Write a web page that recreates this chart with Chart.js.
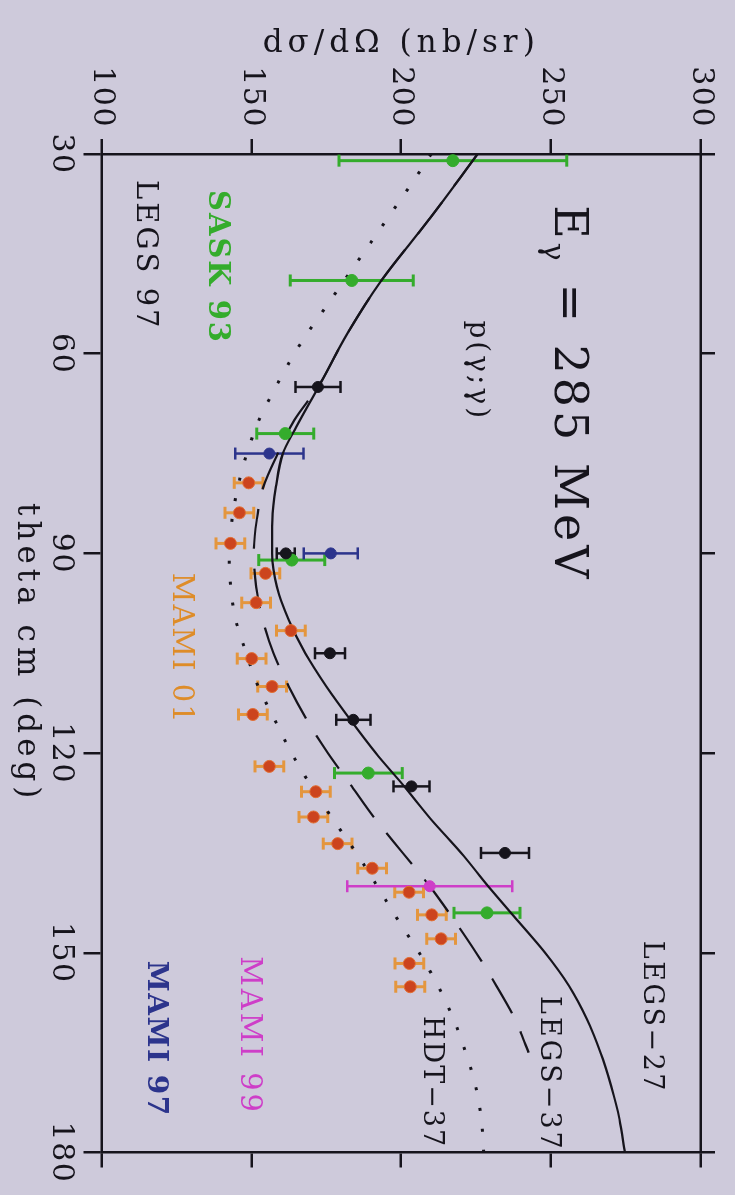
<!DOCTYPE html>
<html>
<head>
<meta charset="utf-8">
<script src="https://cdn.jsdelivr.net/npm/chart.js@4/dist/chart.umd.min.js"></script>
<style>
  html, body { margin: 0; padding: 0; width: 735px; height: 1195px; overflow: hidden; background: #cecadb; }
  /* the figure is printed sideways: draw it flat, then turn it a quarter clockwise */
  #wrap { position: absolute; left: 0; top: 0; width: 1195px; height: 735px;
          transform-origin: 0 0; transform: translate(735px, 0) rotate(90deg); }
</style>
</head>
<body>
<div id="wrap"><canvas id="c" width="1195" height="735"></canvas></div>
<script>
// theta cm (deg), d sigma / d Omega (nb/sr), error (nb/sr)
const legs97Theta = [65, 90, 105, 115, 125, 135];
const legs97Value = [172.2, 161.5, 176.2, 184, 203.4, 234.6];
const legs97Err   = [7.5, 3, 5, 5.7, 6, 8];

const sask93Theta = [31, 49, 72, 91, 123, 144];
const sask93Value = [217.2, 183.5, 161.3, 163.5, 189, 228.6];
const sask93Err   = [38, 20.5, 9.5, 11, 11.3, 11];

const mami97Theta = [75, 90];
const mami97Value = [156, 176.5];
const mami97Err   = [11.4, 9];

const mami99Theta = [140];
const mami99Value = [209.5];
const mami99Err   = [27.5];

const mami01Theta = [79.4, 83.9, 88.5, 93, 97.4, 101.6, 105.8, 110, 114.2, 122, 125.8, 129.6, 133.6, 137.3, 140.9, 144.3, 147.9, 151.6, 155.1];
const mami01Value = [149.1, 146, 143, 154.7, 151.6, 163.2, 150.1, 156.9, 150.5, 156, 171.5, 170.7, 178.8, 190.3, 202.6, 210.2, 213.3, 202.7, 203];
const mami01Err   = [4.8, 4.8, 4.8, 4.8, 4.8, 4.8, 4.8, 4.8, 4.8, 4.8, 4.8, 4.8, 4.8, 4.8, 4.8, 4.8, 4.8, 4.8, 4.8];

// model curves
const legs27Theta = [30, 40, 49, 57, 65, 71, 75, 80, 85, 90, 95, 100, 105, 110, 115, 120, 125, 130, 135, 140, 145, 150, 155, 160, 165, 170, 175, 180];
const legs27Value = [225.5, 209, 193.4, 182, 172.4, 165, 160.5, 158.2, 157, 156.9, 158.5, 162.5, 168, 175, 183, 191.5, 201, 210, 220, 229, 238.5, 248, 256, 262, 266.5, 270, 272.8, 274.6];

const legs37Theta = [30, 40, 49, 57, 65, 70, 75, 80, 85, 90, 95, 100, 105, 110, 115, 120, 125, 130, 135, 140, 145, 150, 155, 160, 165];
const legs37Value = [225.5, 209, 193.4, 182, 172.2, 164.3, 158.8, 154, 151.8, 150.8, 151.6, 153.8, 157.4, 162.5, 168.5, 175.5, 183.5, 191.5, 200.5, 209.5, 217.5, 225, 231.8, 238, 242.5];

const hdt37Theta = [30, 33, 41, 51, 59, 67, 70, 75, 80, 85, 90, 95, 100, 105, 110, 115, 120, 125, 130, 135, 140, 145, 150, 155, 160, 165, 170, 175, 180];
const hdt37Value = [210, 205.6, 193.4, 177.9, 165.7, 155.8, 152.5, 148.5, 145.5, 143.5, 142.6, 143.1, 144.8, 148.3, 152.3, 157.8, 163.4, 170, 177.3, 185, 192, 198.8, 206, 212.3, 217.5, 221.5, 224.8, 226.7, 227.5];

const thetaTicks = [30, 60, 90, 120, 150, 180];
const valueTicks = [100, 150, 200, 250, 300];

const ink = 'rgb(22,20,28)';
const green = 'rgb(52,172,44)';
const orange = 'rgb(228,150,62)';
const orangeDot = 'rgb(204,68,30)';
const blue = 'rgb(44,52,140)';
const magenta = 'rgb(206,62,200)';
const fam = '"DejaVu Serif", "Liberation Serif", serif';

const pts = (t, v) => t.map((x, i) => ({ x: x, y: v[i] }));

Chart.defaults.font.family = fam;
Chart.defaults.color = ink;

// vertical error bars with caps, drawn under the markers
const errorBars = {
  id: 'errorBars',
  beforeDatasetsDraw(chart) {
    const ctx = chart.ctx, ys = chart.scales.y;
    chart.data.datasets.forEach((ds, i) => {
      if (!ds.errors) return;
      const meta = chart.getDatasetMeta(i);
      ctx.save();
      ctx.strokeStyle = ds.errColor;
      ctx.lineWidth = ds.errWidth;
      meta.data.forEach((p, j) => {
        const lo = ys.getPixelForValue(ds.data[j].y - ds.errors[j]);
        const hi = ys.getPixelForValue(ds.data[j].y + ds.errors[j]);
        const c = ds.capSize;
        ctx.beginPath();
        ctx.moveTo(p.x, lo); ctx.lineTo(p.x, hi);
        ctx.moveTo(p.x - c, lo); ctx.lineTo(p.x + c, lo);
        ctx.moveTo(p.x - c, hi); ctx.lineTo(p.x + c, hi);
        ctx.stroke();
      });
      ctx.restore();
    });
  }
};

// text written inside the frame, placed in data coordinates
const notes = [
  { text: 'LEGS 97', theta: 33.9, value: 114.5, color: ink, size: 29, weight: 'normal', sp: 3 },
  { text: 'SASK 93', theta: 35.4, value: 138.5, color: green, size: 29, weight: 'bold', sp: 2 },
  { text: 'MAMI 01', theta: 92.9, value: 126.5, color: 'rgb(222,140,40)', size: 29, weight: 'normal', sp: 2 },
  { text: 'MAMI 97', theta: 151.2, value: 117.8, color: blue, size: 28, weight: 'bold', sp: 1.5 },
  { text: 'MAMI 99', theta: 150.5, value: 149, color: magenta, size: 29, weight: 'normal', sp: 3 },
  { text: 'LEGS\u221227', theta: 148.2, value: 283.2, color: ink, size: 27, weight: 'normal', sp: 2.5 },
  { text: 'LEGS\u221237', theta: 156.5, value: 248.8, color: ink, size: 27, weight: 'normal', sp: 3 },
  { text: 'HDT\u221237', theta: 159.5, value: 210, color: ink, size: 27, weight: 'normal', sp: 2 },
  { text: 'p(\u03b3;\u03b3)', theta: 55, value: 225.5, color: ink, size: 28, weight: 'normal', sp: 3 }
];

const labels = {
  id: 'labels',
  beforeDraw(chart) {
    chart.ctx.letterSpacing = '1.5px';
  },
  afterDraw(chart) {
    const ctx = chart.ctx, xs = chart.scales.x, ys = chart.scales.y;
    const area = chart.chartArea;
    ctx.save();
    ctx.textAlign = 'left';
    ctx.textBaseline = 'middle';
    notes.forEach(n => {
      ctx.font = n.weight + ' ' + n.size + 'px ' + fam;
      ctx.letterSpacing = n.sp + 'px';
      ctx.fillStyle = n.color;
      ctx.fillText(n.text, xs.getPixelForValue(n.theta), ys.getPixelForValue(n.value));
    });
    // E_gamma = 285 MeV
    let x = xs.getPixelForValue(37.7);
    const y = ys.getPixelForValue(255.2);
    ctx.fillStyle = ink;
    ctx.letterSpacing = '4px';
    ctx.font = '46px ' + fam;
    ctx.fillText('E', x, y);
    x += ctx.measureText('E').width;
    ctx.font = '30px ' + fam;
    ctx.fillText('\u03b3', x, y + 15);
    x += ctx.measureText('\u03b3').width;
    ctx.font = '46px ' + fam;
    ctx.fillText(' = 285 MeV', x, y);

    // axis titles
    ctx.textAlign = 'center';
    ctx.font = '31px ' + fam;
    ctx.letterSpacing = '5px';
    ctx.fillText('theta cm (deg)', (area.left + area.right) / 2, chart.height - 26);
    ctx.translate(44, (area.top + area.bottom) / 2);
    ctx.rotate(-Math.PI / 2);
    ctx.fillText('d\u03c3/d\u03a9 (nb/sr)', 0, 0);
    ctx.restore();
  }
};

const frameAxis = (extra) => Object.assign({
  type: 'linear',
  border: { color: ink, width: 2.5 }
}, extra);

new Chart(document.getElementById('c'), {
  type: 'scatter',
  data: {
    datasets: [
      { label: 'LEGS-27', data: pts(legs27Theta, legs27Value), showLine: true, borderColor: ink, borderWidth: 2.2,
        pointRadius: 0, cubicInterpolationMode: 'monotone', order: 5 },
      { label: 'LEGS-37', data: pts(legs37Theta, legs37Value), showLine: true, borderColor: ink, borderWidth: 2.2,
        borderDash: [40, 20], pointRadius: 0, cubicInterpolationMode: 'monotone', order: 5 },
      { label: 'HDT-37', data: pts(hdt37Theta, hdt37Value), showLine: true, borderColor: ink, borderWidth: 3,
        borderDash: [3, 18], pointRadius: 0, cubicInterpolationMode: 'monotone', order: 5 },
      { label: 'MAMI 01', data: pts(mami01Theta, mami01Value), errors: mami01Err, errColor: orange, errWidth: 3, capSize: 6,
        pointRadius: 6, backgroundColor: orangeDot, borderColor: 'rgb(225,110,50)', borderWidth: 1, order: 1 },
      { label: 'SASK 93', data: pts(sask93Theta, sask93Value), errors: sask93Err, errColor: green, errWidth: 3, capSize: 6,
        pointRadius: 6, backgroundColor: green, borderColor: green, order: 1 },
      { label: 'MAMI 97', data: pts(mami97Theta, mami97Value), errors: mami97Err, errColor: blue, errWidth: 2.5, capSize: 6,
        pointRadius: 5.5, backgroundColor: blue, borderColor: blue, order: 1 },
      { label: 'MAMI 99', data: pts(mami99Theta, mami99Value), errors: mami99Err, errColor: magenta, errWidth: 2.5, capSize: 6,
        pointRadius: 5.5, backgroundColor: magenta, borderColor: magenta, order: 1 },
      { label: 'LEGS 97', data: pts(legs97Theta, legs97Value), errors: legs97Err, errColor: ink, errWidth: 2.5, capSize: 6,
        pointRadius: 5.5, backgroundColor: ink, borderColor: ink, order: 0 }
    ]
  },
  options: {
    responsive: false,
    animation: false,
    devicePixelRatio: 1,
    layout: { padding: 0 },
    plugins: { legend: { display: false }, tooltip: { enabled: false } },
    scales: {
      x: frameAxis({
        position: 'bottom', min: thetaTicks[0], max: thetaTicks[thetaTicks.length - 1],
        afterBuildTicks: s => { s.ticks = thetaTicks.map(v => ({ value: v })); },
        ticks: { font: { size: 30 }, padding: 5, maxRotation: 0, autoSkip: false },
        grid: { drawOnChartArea: false, color: ink, lineWidth: 2.5, tickLength: 18 },
        afterFit: s => { s.height = 101.5; }
      }),
      x2: frameAxis({
        position: 'top', min: thetaTicks[0], max: thetaTicks[thetaTicks.length - 1],
        afterBuildTicks: s => { s.ticks = thetaTicks.map(v => ({ value: v })); },
        ticks: { display: false },
        grid: { drawOnChartArea: false, color: ink, lineWidth: 2.5, tickLength: 14 },
        afterFit: s => { s.height = 34; }
      }),
      y: frameAxis({
        position: 'left', min: valueTicks[0], max: valueTicks[valueTicks.length - 1],
        afterBuildTicks: s => { s.ticks = valueTicks.map(v => ({ value: v })); },
        ticks: { font: { size: 30 }, padding: 11 },
        grid: { drawOnChartArea: false, color: ink, lineWidth: 2.5, tickLength: 15 },
        afterFit: s => { s.width = 154; }
      }),
      y2: frameAxis({
        position: 'right', min: valueTicks[0], max: valueTicks[valueTicks.length - 1],
        afterBuildTicks: s => { s.ticks = valueTicks.map(v => ({ value: v })); },
        ticks: { display: false },
        grid: { drawOnChartArea: false, color: ink, lineWidth: 2.5, tickLength: 15 },
        afterFit: s => { s.width = 42.5; }
      })
    }
  },
  plugins: [errorBars, labels]
});
</script>
</body>
</html>
